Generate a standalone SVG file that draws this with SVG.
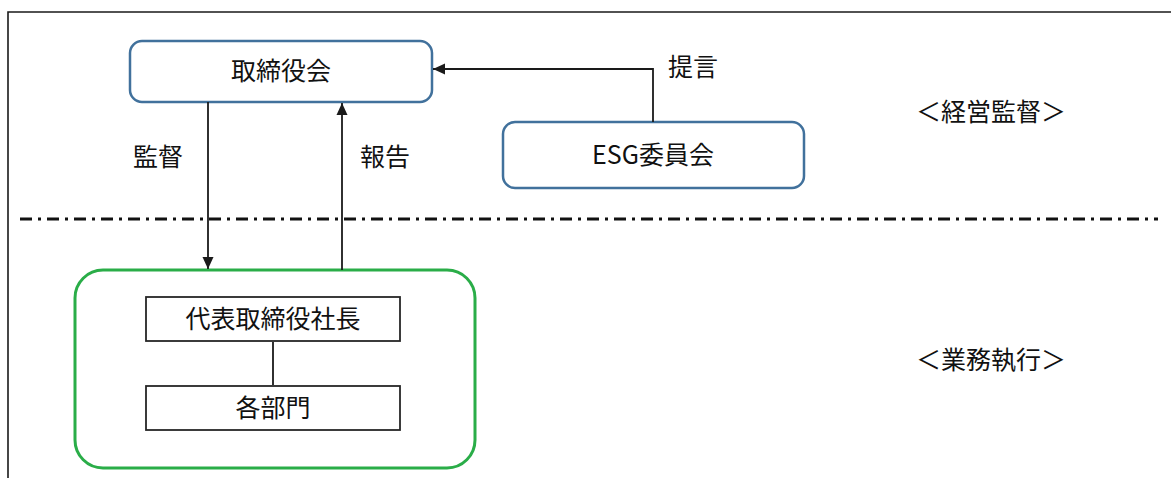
<svg xmlns="http://www.w3.org/2000/svg" width="1171" height="478" viewBox="0 0 1171 478">
  <style>
    .lbl { font-family: "Noto Sans CJK JP", "Noto Sans", sans-serif; font-size: 25px; fill: #111111; }
    .board { fill: #ffffff; stroke: #41719c; stroke-width: 2.5; }
    .exec { fill: #ffffff; stroke: #2aad48; stroke-width: 3; }
    .box { fill: #ffffff; stroke: #262626; stroke-width: 1.8; }
    .wire { fill: none; stroke: #1a1a1a; stroke-width: 1.8; }
  </style>
  <defs>
    <marker id="arrow" viewBox="0 0 12 12" refX="12" refY="6" markerWidth="12" markerHeight="12" markerUnits="userSpaceOnUse" orient="auto">
      <path d="M0,0.5 L12,6 L0,11.5 Z" fill="#1a1a1a"/>
    </marker>
  </defs>
  <rect width="1171" height="478" fill="#ffffff"/>

  <!-- frame (open on the right and bottom) -->
  <path d="M8,478 V12 H1171" fill="none" stroke="#1a1a1a" stroke-width="1.6"/>

  <!-- boundary between supervision and execution -->
  <line x1="20" y1="219" x2="1158" y2="219" stroke="#111111" stroke-width="3" stroke-dasharray="12 6 3 6"/>

  <!-- section captions -->
  <text class="lbl" x="991" y="121" text-anchor="middle">＜経営監督＞</text>
  <text class="lbl" x="991" y="369" text-anchor="middle">＜業務執行＞</text>

  <!-- board of directors -->
  <g id="board">
    <rect class="board" x="130" y="41" width="302" height="61" rx="12"/>
    <text class="lbl" x="281" y="80" text-anchor="middle">取締役会</text>
  </g>

  <!-- ESG committee -->
  <g id="esg">
    <rect class="board" x="503" y="122" width="301" height="66" rx="12"/>
    <text class="lbl" x="653" y="164" text-anchor="middle">ESG委員会</text>
  </g>

  <!-- execution group -->
  <g id="execution">
    <rect class="exec" x="75" y="270" width="400" height="198" rx="28"/>
  </g>

  <g id="president">
    <rect class="box" x="146" y="297" width="254" height="44"/>
    <text class="lbl" x="273" y="328" text-anchor="middle">代表取締役社長</text>
  </g>

  <g id="departments">
    <rect class="box" x="146" y="386" width="254" height="44"/>
    <text class="lbl" x="273" y="417" text-anchor="middle">各部門</text>
  </g>

  <!-- connectors -->
  <g id="connectors">
    <path class="wire" d="M653,122 V69 H433" marker-end="url(#arrow)"/>
    <text class="lbl" x="668" y="76">提言</text>
    <path class="wire" d="M208,102 V269" marker-end="url(#arrow)"/>
    <text class="lbl" x="133" y="166">監督</text>
    <path class="wire" d="M342,270 V103" marker-end="url(#arrow)"/>
    <text class="lbl" x="360" y="166">報告</text>
    <line class="wire" x1="273" y1="342" x2="273" y2="385"/>
  </g>
</svg>
